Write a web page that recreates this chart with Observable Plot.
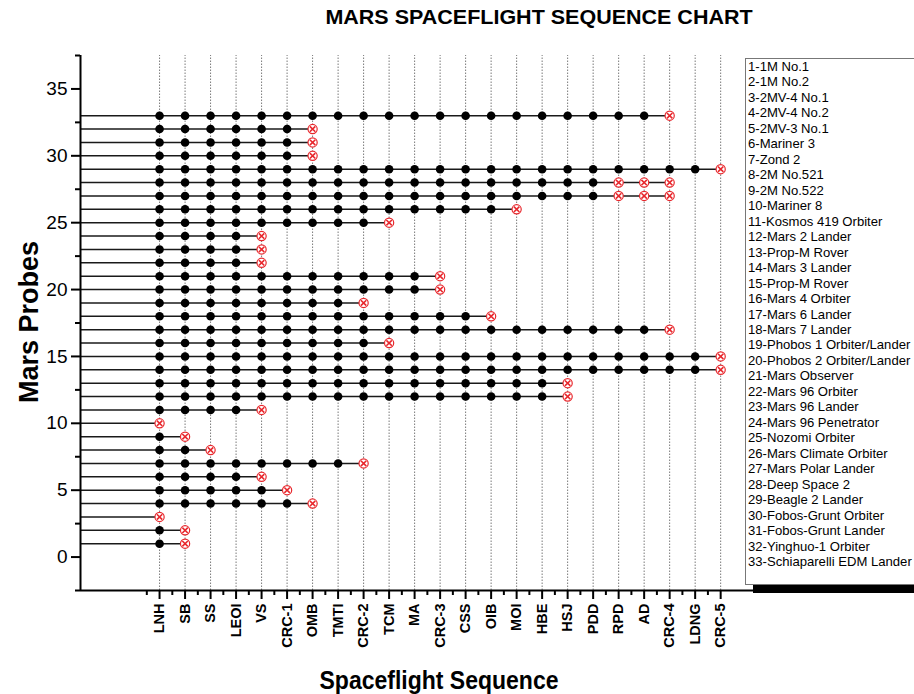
<!DOCTYPE html>
<html>
<head>
<meta charset="utf-8">
<script src="https://cdn.jsdelivr.net/npm/d3@7"></script>
<script src="https://cdn.jsdelivr.net/npm/@observablehq/plot@0.6"></script>
<style>
  html, body { margin: 0; padding: 0; background: #fff; overflow: hidden; }
  #wrap { position: relative; width: 914px; height: 694px; font-family: "Liberation Sans", Arial, sans-serif; color: #000; }
  #chart { position: absolute; left: 0; top: 0; }
  .title { position: absolute; left: 539px; top: 18px; transform: translate(-50%, -50%) scaleY(0.9); font-weight: bold; font-size: 21.5px; white-space: nowrap; }
  .ylab { position: absolute; left: 29px; top: 322px; transform: translate(-50%, -50%) rotate(-90deg); font-weight: bold; font-size: 27px; white-space: nowrap; }
  .xlab { position: absolute; left: 439px; top: 681px; transform: translate(-50%, -50%) scaleY(1.1); font-weight: bold; font-size: 23px; white-space: nowrap; }
  .legend { position: absolute; left: 745px; top: 58px; width: 200px; height: 527px; box-sizing: border-box; border: 1px solid #777; background: #fff; box-shadow: 8px 8px 0 #000; padding: 0 0 0 2px; }
  .legend div { font-size: 13.1px; line-height: 15.47px; height: 15.47px; white-space: nowrap; }
</style>
</head>
<body>
<div id="wrap">
  <div id="chart"></div>
  <div class="title">MARS SPACEFLIGHT SEQUENCE CHART</div>
  <div class="ylab">Mars Probes</div>
  <div class="xlab">Spaceflight Sequence</div>
  <div class="legend" id="legend"></div>
</div>
<script>
// Spaceflight sequence stages (x = 1..23)
const stages = ["LNH","SB","SS","LEOI","VS","CRC-1","OMB","TMTI","CRC-2","TCM","MA","CRC-3","CSS","OIB","MOI","HBE","HSJ","PDD","RPD","AD","CRC-4","LDNG","CRC-5"];

// Mars probes (y = 1..33)
const probes = ["1M No.1","1M No.2","2MV-4 No.1","2MV-4 No.2","2MV-3 No.1","Mariner 3","Zond 2","2M No.521","2M No.522","Mariner 8","Kosmos 419 Orbiter","Mars 2 Lander","Prop-M Rover","Mars 3 Lander","Prop-M Rover","Mars 4 Orbiter","Mars 6 Lander","Mars 7 Lander","Phobos 1 Orbiter/Lander","Phobos 2 Orbiter/Lander","Mars Observer","Mars 96 Orbiter","Mars 96 Lander","Mars 96 Penetrator","Nozomi Orbiter","Mars Climate Orbiter","Mars Polar Lander","Deep Space 2","Beagle 2 Lander","Fobos-Grunt Orbiter","Fobos-Grunt Lander","Yinghuo-1 Orbiter","Schiaparelli EDM Lander"];

// Number of successfully completed stages for each probe (row 1..33)
const successCount = [1,1,0,6,5,4,8,2,1,0,4,16,16,22,22,9,20,13,8,11,11,4,4,4,9,14,18,18,22,6,6,6,20];

// Stages marked as failed for each probe (row 1..33)
const failedStages = [[2],[2],[1],[7],[6],[5],[9],[3],[2],[1],[5],[17],[17],[23],[23],[10],[21],[14],[9],[12],[12],[5],[5],[5],[10],[15],[19,20,21],[19,20,21],[23],[7],[7],[7],[21]];

// Axis tick values
const yMajorTicks = [0,5,10,15,20,25,30,35];
const yMinorTicks = [-2.5,2.5,7.5,12.5,17.5,22.5,27.5,32.5,37.5];
const xDomain = [-2.1, 30.6];
const yDomain = [-2.5, 37.5];

const stageIdx = stages.map((_, i) => i + 1);
const xMinorTicks = stages.slice(0, -1).map((_, i) => i + 0.5).concat([stages.length - 0.5]);

const oks = [], fails = [], rows = [];
probes.forEach((name, i) => {
  const p = i + 1;
  for (let s = 1; s <= successCount[i]; s++) oks.push({probe: p, stage: s});
  failedStages[i].forEach(s => fails.push({probe: p, stage: s}));
  rows.push({probe: p, end: Math.max(successCount[i], ...failedStages[i])});
});

const red = "#e8272c";

const chart = Plot.plot({
  width: 914,
  height: 694,
  marginTop: 55,
  marginBottom: 104,
  marginLeft: 80,
  marginRight: 0,
  style: {fontFamily: "'Liberation Sans', Arial, sans-serif", color: "#000", background: "transparent", overflow: "visible"},
  x: {domain: xDomain},
  y: {domain: yDomain},
  marks: [
    Plot.ruleX(stageIdx, {x: d => d, y1: yDomain[0], y2: yDomain[1], stroke: "#7a7a7a", strokeWidth: 1, strokeDasharray: "1.5,1.5"}),
    Plot.ruleY(rows, {y: "probe", x1: xDomain[0], x2: "end", stroke: "#1a1a1a", strokeWidth: 1.6}),
    Plot.ruleX([xDomain[0]], {stroke: "#000", strokeWidth: 2}),
    Plot.ruleY([yDomain[0]], {stroke: "#000", strokeWidth: 2}),
    Plot.dot(oks, {x: "stage", y: "probe", r: 4.3, fill: "#000", stroke: null}),
    Plot.dot(fails, {x: "stage", y: "probe", r: 4.6, fill: "#fff", stroke: red, strokeWidth: 1.2}),
    Plot.dot(fails, {x: "stage", y: "probe", symbol: "times", r: 2.6, stroke: red, strokeWidth: 1.6}),
    Plot.axisX(stageIdx, {tickFormat: i => stages[i - 1], tickRotate: -90, tickSize: 9, tickPadding: 4, strokeWidth: 2, fontSize: 14.5, fontWeight: "bold", label: null}),
    Plot.axisX(xMinorTicks, {tickFormat: () => "", tickSize: 5, strokeWidth: 2, label: null}),
    Plot.axisY(yMajorTicks, {tickSize: 9, tickPadding: 4, strokeWidth: 2, fontSize: 19, label: null}),
    Plot.axisY(yMinorTicks, {tickFormat: () => "", tickSize: 5, strokeWidth: 2, label: null})
  ]
});
document.getElementById("chart").appendChild(chart);

const legend = document.getElementById("legend");
probes.forEach((name, i) => {
  const d = document.createElement("div");
  d.textContent = (i + 1) + "-" + name;
  legend.appendChild(d);
});
</script>
</body>
</html>
